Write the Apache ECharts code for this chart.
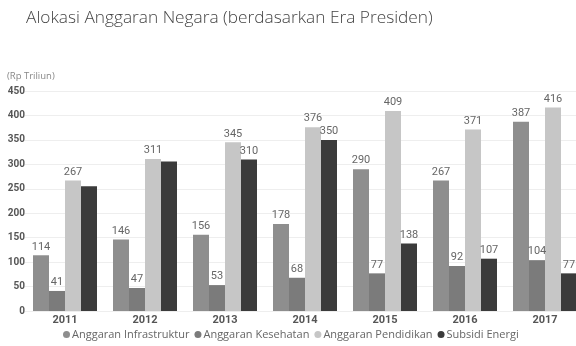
<!DOCTYPE html>
<html lang="id">
<head>
    <meta charset="UTF-8">
    <script src="https://cdn.jsdelivr.net/npm/echarts@6/dist/echarts.min.js"></script>
    <title>Alokasi Anggaran Negara</title>
    <style>
        html, body { margin: 0; padding: 0; background: #fff; }
        #chart { width: 576px; height: 346px; }
    </style>
</head>
<body>
<div id="chart"></div>
<script type="text/javascript">
    var years = ['2011', '2012', '2013', '2014', '2015', '2016', '2017'];
    var infrastruktur = [114, 146, 156, 178, 290, 267, 387];
    var kesehatan = [41, 47, 53, 68, 77, 92, 104];
    var pendidikan = [267, 311, 345, 376, 409, 371, 416];
    var subsidiEnergi = [255, 306, 310, 350, 138, 107, 77];
    // label yang tidak tampil di gambar (tertutup)
    var subsidiNoLabel = ['2011', '2012'];

    var myChart = echarts.init(document.getElementById('chart'));

    function makeSeries(name, data, color, hidden) {
        return {
            name: name,
            type: 'bar',
            barGap: '0%',
            barCategoryGap: '20%',
            itemStyle: { color: color },
            label: {
                show: true,
                position: 'top',
                distance: 3,
                color: '#666',
                fontFamily: 'Roboto',
                fontSize: 11
            },
            data: data.map(function (v, i) {
                if (hidden && hidden.indexOf(years[i]) > -1) {
                    return { value: v, label: { show: false } };
                }
                return v;
            })
        };
    }

    var option = {
        animation: false,
        title: {
            text: 'Alokasi Anggaran Negara (berdasarkan Era Presiden)',
            left: 21,
            top: 5,
            textStyle: {
                color: '#444',
                fontFamily: 'Open Sans',
                fontWeight: 300,
                fontSize: 17.3
            }
        },
        legend: {
            bottom: 1,
            left: 58,
            icon: 'circle',
            itemWidth: 7,
            itemHeight: 7,
            itemGap: 5,
            textStyle: {
                color: '#666',
                fontFamily: 'Open Sans',
                fontSize: 11,
                padding: [0, 0, 0, -3]
            },
            data: ['Anggaran Infrastruktur', 'Anggaran Kesehatan', 'Anggaran Pendidikan', 'Subsidi Energi']
        },
        grid: {
            left: 25,
            width: 560,
            top: 91,
            bottom: 35,
            containLabel: false,
            outerBoundsMode: 'none'
        },
        xAxis: {
            type: 'category',
            data: years,
            axisLine: { show: false },
            axisTick: { show: false },
            axisLabel: {
                color: '#555',
                fontFamily: 'Roboto',
                fontWeight: 'bold',
                fontSize: 11,
                margin: 4
            }
        },
        yAxis: {
            type: 'value',
            name: '(Rp Triliun)',
            nameLocation: 'end',
            nameGap: 10,
            nameTextStyle: {
                color: '#888',
                fontFamily: 'Open Sans',
                fontSize: 9.5,
                align: 'left',
                padding: [0, 0, 0, -18]
            },
            min: 0,
            max: 450,
            interval: 50,
            axisLine: { show: false },
            axisTick: { show: false },
            axisLabel: {
                color: '#555',
                fontFamily: 'Roboto',
                fontWeight: 'bold',
                fontSize: 10,
                margin: 0
            },
            splitLine: { lineStyle: { color: '#eeeeee', width: 1 } }
        },
        series: [
            makeSeries('Anggaran Infrastruktur', infrastruktur, '#8e8e8e'),
            makeSeries('Anggaran Kesehatan', kesehatan, '#7b7b7b'),
            makeSeries('Anggaran Pendidikan', pendidikan, '#c6c6c6'),
            makeSeries('Subsidi Energi', subsidiEnergi, '#3b3b3b', subsidiNoLabel)
        ]
    };
    myChart.setOption(option);
</script>
</body>
</html>
